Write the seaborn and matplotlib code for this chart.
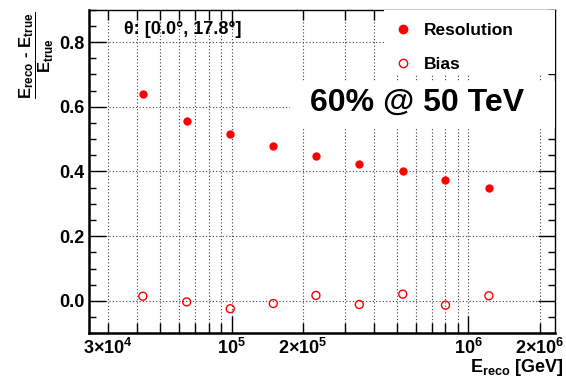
import math
import matplotlib
matplotlib.use("Agg")
import matplotlib.pyplot as plt
import matplotlib.ticker as mticker
from matplotlib.patches import Rectangle
from matplotlib.lines import Line2D
import seaborn as sns
import pandas as pd

# ---- data ----
energy = [4.22e4, 6.46e4, 9.87e4, 1.50e5, 2.27e5, 3.46e5, 5.28e5, 8.0e5, 1.22e6]
resolution = [0.638, 0.557, 0.515, 0.479, 0.447, 0.4245, 0.400, 0.373, 0.350]
bias = [0.0146, -0.003, -0.024, -0.008, 0.017, -0.011, 0.021, -0.013, 0.016]
series_labels = ["Resolution", "Bias"]
theta_text = "θ: [0.0°, 17.8°]"
headline = "60% @ 50 TeV"
x_major = [1e5, 1e6]
x_minor = [3e4, 4e4, 5e4, 6e4, 7e4, 8e4, 9e4, 2e5, 3e5, 4e5, 5e5, 6e5, 7e5, 8e5, 9e5, 2e6]
x_minor_labels = {3e4: r"$3{\times}10^{4}$", 2e5: r"$2{\times}10^{5}$", 2e6: r"$2{\times}10^{6}$"}
y_ticks = [0.0, 0.2, 0.4, 0.6, 0.8]

df = pd.DataFrame({"energy": energy, "resolution": resolution, "bias": bias})

sns.set_style("ticks")
plt.rcParams["font.family"] = ["Liberation Sans", "DejaVu Sans"]
plt.rcParams["font.weight"] = "bold"
plt.rcParams["text.color"] = "black"
plt.rcParams["axes.labelcolor"] = "black"
plt.rcParams["xtick.color"] = "black"
plt.rcParams["ytick.color"] = "black"
plt.rcParams["axes.edgecolor"] = "black"
plt.rcParams["mathtext.fontset"] = "custom"
plt.rcParams["mathtext.rm"] = "Liberation Sans:bold"
plt.rcParams["mathtext.bf"] = "Liberation Sans:bold"
plt.rcParams["mathtext.it"] = "Liberation Sans:bold"
plt.rcParams["mathtext.sf"] = "Liberation Sans:bold"
plt.rcParams["mathtext.default"] = "bf"

fig = plt.figure(figsize=(5.66, 3.80), dpi=100)
ax = fig.add_axes([89 / 566, 46.7 / 380, (555 - 89) / 566, (333.3 - 9.7) / 380])

ax.set_xscale("log")
ax.set_xlim(2.5e4, 2.32e6)
ax.set_ylim(-0.1, 0.9)

sns.scatterplot(data=df, x="energy", y="resolution", ax=ax, color="#ff0000",
                s=36, marker="o", linewidth=0, zorder=5, legend=False)
sns.scatterplot(data=df, x="energy", y="bias", ax=ax, marker="o", s=33,
                facecolors="none", edgecolor="#ff0000", linewidth=1.0,
                zorder=5, legend=False)

# ticks
ax.xaxis.set_major_locator(mticker.FixedLocator(x_major))
ax.xaxis.set_minor_locator(mticker.FixedLocator(x_minor))
ax.xaxis.set_major_formatter(mticker.FuncFormatter(
    lambda v, p: r"$10^{%d}$" % round(math.log10(v))))
ax.xaxis.set_minor_formatter(mticker.FuncFormatter(
    lambda v, p: x_minor_labels.get(v, "")))
ax.yaxis.set_major_locator(mticker.FixedLocator(y_ticks))
ax.yaxis.set_minor_locator(mticker.MultipleLocator(0.05))
ax.yaxis.set_major_formatter(mticker.FormatStrFormatter("%.1f"))

ax.tick_params(axis="both", which="both", direction="in", top=True, right=True,
               colors="black", labelsize=13)
ax.tick_params(axis="x", which="major", length=12, width=1, pad=3)
ax.tick_params(axis="x", which="minor", length=7, width=1, pad=3, labelsize=13)
ax.tick_params(axis="y", which="major", length=12, width=1, pad=3)
ax.tick_params(axis="y", which="minor", length=5, width=1)
for lab in ax.get_xticklabels(which="both") + ax.get_yticklabels():
    lab.set_fontweight("bold")

# grid
ax.grid(True, axis="x", which="both", color="0.25", linestyle=(0, (1, 2)), linewidth=0.8)
ax.grid(True, axis="y", which="major", color="0.25", linestyle=(0, (1, 2)), linewidth=0.8)
ax.set_axisbelow(True)

for side in ["left", "bottom"]:
    ax.spines[side].set_linewidth(1.8)
for side in ["top", "right"]:
    ax.spines[side].set_linewidth(1.0)
ax.set_xlabel("")
ax.set_ylabel("")

# white panels behind legend and headline
ax.add_patch(Rectangle((0.632, 0.80), 0.368, 0.20, transform=ax.transAxes,
                       facecolor="white", edgecolor="none", zorder=3))
ax.add_patch(Rectangle((0.432, 0.633), 0.568, 0.146, transform=ax.transAxes,
                       facecolor="white", edgecolor="none", zorder=3))

handles = [Line2D([], [], linestyle="none", marker="o", markersize=6,
                  markerfacecolor="#ff0000", markeredgecolor="#ff0000"),
           Line2D([], [], linestyle="none", marker="o", markersize=6,
                  markerfacecolor="none", markeredgecolor="#ff0000", markeredgewidth=1.0)]
leg = ax.legend(handles, series_labels, loc="upper left", bbox_to_anchor=(0.636, 0.985),
                frameon=False, handlelength=1.0, handletextpad=0.72,
                labelspacing=1.05, borderpad=0.0, prop={"weight": "bold", "size": 12.5})
leg.set_zorder(6)

ax.text(0.075, 0.94, theta_text, transform=ax.transAxes, ha="left", va="center",
        fontsize=13, fontweight="bold", zorder=6)
ax.text(0.705, 0.712, headline, transform=ax.transAxes, ha="center", va="center",
        fontsize=23, fontweight="bold", zorder=6)

fig.text(37 / 566, 1 - 55 / 380, r"$\dfrac{E_{reco}\ \text{-}\ E_{true}}{E_{true}}$",
         rotation=90, ha="center", va="center", fontsize=12)
fig.text(563 / 566, 2 / 380, r"$E_{reco}$ [GeV]", ha="right", va="bottom",
         fontsize=13, fontweight="bold")

fig.savefig("out.png", dpi=100)
